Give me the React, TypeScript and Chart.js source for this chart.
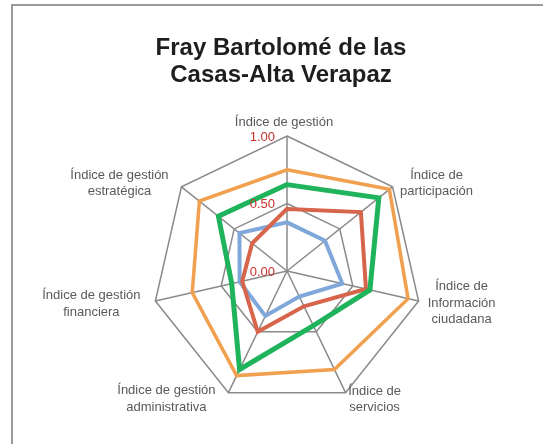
import React, { useEffect, useRef } from 'react';
import { Chart, registerables } from 'chart.js';

Chart.register(...registerables);

// ---- Data ----
const TITLE_LINES = ['Fray Bartolomé de las', 'Casas-Alta Verapaz'];

const CATEGORIES = [
  'Índice de gestión',
  'Índice de participación',
  'Índice de Información ciudadana',
  'Índice de servicios',
  'Índice de gestión administrativa',
  'Índice de gestión financiera',
  'Índice de gestión estratégica',
];

const CATEGORY_LINES = [
  ['Índice de gestión'],
  ['Índice de', 'participación'],
  ['Índice de', 'Información', 'ciudadana'],
  ['Índice de', 'servicios'],
  ['Índice de gestión', 'administrativa'],
  ['Índice de gestión', 'financiera'],
  ['Índice de gestión', 'estratégica'],
];

const TICK_VALUES = [0, 0.5, 1];
const TICK_LABELS = ['0.00', '0.50', '1.00'];

const SERIES_GREEN = [0.64, 0.87, 0.63, 0.45, 0.81, 0.42, 0.65];
const SERIES_RED = [0.46, 0.7, 0.6, 0.29, 0.5, 0.34, 0.33];
const SERIES_BLUE = [0.36, 0.36, 0.42, 0.21, 0.37, 0.36, 0.45];
const SERIES_ORANGE = [0.75, 0.97, 0.92, 0.81, 0.86, 0.72, 0.83];

// ---- Layout / style ----
const LABEL_OFFSETS: [number, number][] = [
  [-3, -13.3],
  [44, -3.6],
  [43, 2],
  [29, 6.8],
  [-62, 6.4],
  [-64, 3],
  [-62, -3.2],
];
const LABEL_LINE_H = 16.5;
const TITLE_X = 281;
const TITLE_BASELINE = 54.5;
const TITLE_LH = 27.5;
const GRID_COLOR = '#8a8a8a';
const TICK_COLOR = '#c9302c';
const LABEL_COLOR = '#595959';
const FONT = '"Liberation Sans", Arial, Helvetica, sans-serif';

const textPlugin = {
  id: 'radarText',
  afterDatasetsDraw(chart: any) {
    const scale = chart.scales.r;
    const ctx = chart.ctx as CanvasRenderingContext2D;
    ctx.save();
    // tick labels
    ctx.font = `13px ${FONT}`;
    ctx.fillStyle = TICK_COLOR;
    ctx.textAlign = 'right';
    ctx.textBaseline = 'middle';
    TICK_VALUES.forEach((v, i) => {
      const p = scale.getPointPositionForValue(0, v);
      ctx.fillText(TICK_LABELS[i], scale.xCenter - 12, p.y + 1.3);
    });
    // point labels
    ctx.fillStyle = LABEL_COLOR;
    ctx.textAlign = 'center';
    CATEGORY_LINES.forEach((lines, i) => {
      const p = scale.getPointPosition(i, scale.drawingArea);
      const [dx, dy] = LABEL_OFFSETS[i];
      const n = lines.length;
      lines.forEach((line, j) => {
        ctx.fillText(line, p.x + dx, p.y + dy + (j - (n - 1) / 2) * LABEL_LINE_H);
      });
    });
    // title
    ctx.font = `bold 24px ${FONT}`;
    ctx.fillStyle = '#1e1e1e';
    ctx.textAlign = 'center';
    ctx.textBaseline = 'alphabetic';
    TITLE_LINES.forEach((t, j) => {
      ctx.fillText(t, TITLE_X, TITLE_BASELINE + j * TITLE_LH);
    });
    ctx.restore();
  },
};

export default function App() {
  const canvasRef = useRef<HTMLCanvasElement | null>(null);

  useEffect(() => {
    if (!canvasRef.current) return;
    const chart = new Chart(canvasRef.current, {
      type: 'radar',
      data: {
        labels: CATEGORIES,
        datasets: [
          {
            label: 'Serie 3',
            data: SERIES_GREEN,
            borderColor: '#1fb35b',
            borderWidth: 5,
            fill: false,
            pointRadius: 0,
          },
          {
            label: 'Serie 2',
            data: SERIES_RED,
            borderColor: '#d7654b',
            borderWidth: 4,
            fill: false,
            pointRadius: 0,
          },
          {
            label: 'Serie 1',
            data: SERIES_BLUE,
            borderColor: '#80a7d9',
            borderWidth: 4,
            fill: false,
            pointRadius: 0,
          },
          {
            label: 'Serie 4',
            data: SERIES_ORANGE,
            borderColor: '#f0a04e',
            borderWidth: 3.5,
            fill: false,
            pointRadius: 0,
          },
        ],
      },
      options: {
        responsive: false,
        animation: false,
        layout: { padding: { left: 152, right: 121, top: 136, bottom: 38 } },
        plugins: {
          legend: { display: false },
          title: { display: false },
          tooltip: { enabled: false },
        },
        elements: { line: { tension: 0, borderJoinStyle: 'miter' } },
        scales: {
          r: {
            min: 0,
            max: 1,
            beginAtZero: true,
            ticks: { stepSize: 0.5, display: false },
            grid: { color: GRID_COLOR, lineWidth: 1.5, circular: false },
            angleLines: { color: GRID_COLOR, lineWidth: 1.5 },
            pointLabels: { display: false },
          },
        },
      },
      plugins: [textPlugin],
    });
    return () => chart.destroy();
  }, []);

  return (
    <div
      style={{
        position: 'fixed',
        left: 0,
        top: 0,
        width: 543,
        height: 444,
        overflow: 'hidden',
        background: '#fff',
      }}
    >
      <div
        style={{
          position: 'absolute',
          left: 11,
          top: 4,
          width: 560,
          height: 480,
          border: '2px solid #9a9a9a',
          boxSizing: 'border-box',
        }}
      />
      <canvas
        ref={canvasRef}
        width={543}
        height={444}
        style={{ position: 'absolute', left: 0, top: 0, width: 543, height: 444 }}
      />
    </div>
  );
}
